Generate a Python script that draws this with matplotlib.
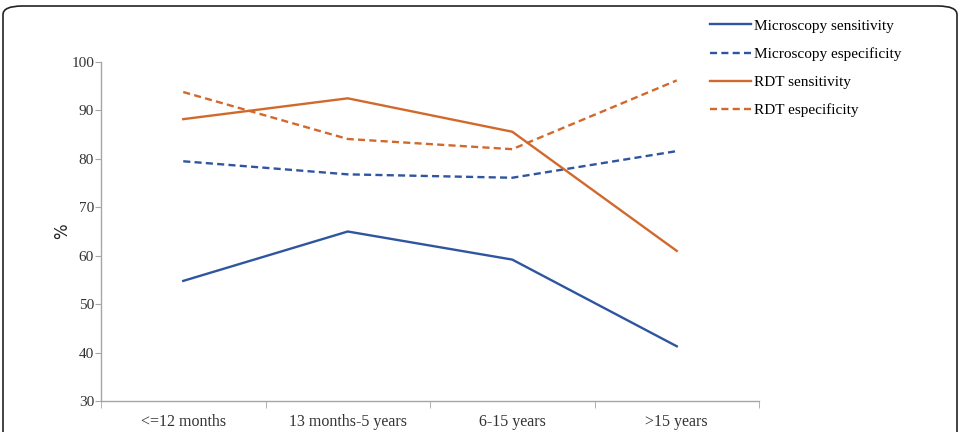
import matplotlib
matplotlib.use("Agg")
import matplotlib.pyplot as plt
from matplotlib.patches import FancyBboxPatch

# 年龄组
groups = ["<=12 months", "13 months-5 years", "6-15 years", ">15 years"]
# 各指标数值（%）
micro_sens = [54.8, 65.0, 59.2, 41.3]
micro_spec = [79.5, 76.8, 76.1, 81.6]
rdt_sens = [88.2, 92.5, 85.6, 61.0]
rdt_spec = [93.8, 84.1, 82.0, 96.2]

blue = "#2F55A0"
orange = "#D2692C"
serif = ["Liberation Serif", "DejaVu Serif"]

fig = plt.figure(figsize=(9.61, 4.32), dpi=100)
ax = fig.add_axes([101 / 961, 1 - 401 / 432, (759 - 101) / 961, (401 - 62) / 432])

x = list(range(len(groups)))
ax.plot(x, micro_sens, color=blue, lw=1.7, label="Microscopy sensitivity")
ax.plot(x, micro_spec, color=blue, lw=1.7, ls=(0, (3, 1.8)), label="Microscopy especificity")
ax.plot(x, rdt_sens, color=orange, lw=1.7, label="RDT sensitivity")
ax.plot(x, rdt_spec, color=orange, lw=1.7, ls=(0, (3, 1.8)), label="RDT especificity")

ax.set_xlim(-0.5, 3.5)
ax.set_ylim(30, 100)
ax.set_yticks(range(30, 101, 10))
ax.set_xticks(x)
ax.set_xticklabels(groups, fontfamily=serif, fontsize=11.5, color="#333333")
ax.set_xticks([i - 0.5 for i in range(5)], minor=True)
ax.tick_params(axis="x", which="major", length=0, pad=9)
ax.tick_params(axis="x", which="minor", length=5, color="#a6a6a6", direction="out")
ax.tick_params(axis="y", length=4, color="#a6a6a6", labelsize=11, labelcolor="#333333", pad=1)
for lab in ax.get_yticklabels():
    lab.set_fontfamily(serif)

for side in ["top", "right"]:
    ax.spines[side].set_visible(False)
for side in ["left", "bottom"]:
    ax.spines[side].set_color("#a6a6a6")
    ax.spines[side].set_linewidth(1)

ax.set_ylabel("%", fontsize=12, color="#222222", labelpad=0)

fig.legend(loc="upper left", bbox_to_anchor=(710 / 961, 1 - 19 / 432), frameon=False,
           prop={"family": serif, "size": 11}, handlelength=2.7, handletextpad=0.15,
           labelspacing=0.95, borderpad=0, borderaxespad=0)

# 外框
frame = FancyBboxPatch((3 / 961, -0.05), 954 / 961, 1 - 6 / 432 + 0.05,
                       boxstyle="round,pad=0,rounding_size=0.02",
                       transform=fig.transFigure, fill=False, ec="#222222", lw=1.2)
fig.patches.append(frame)

fig.savefig("out.png", dpi=100)
